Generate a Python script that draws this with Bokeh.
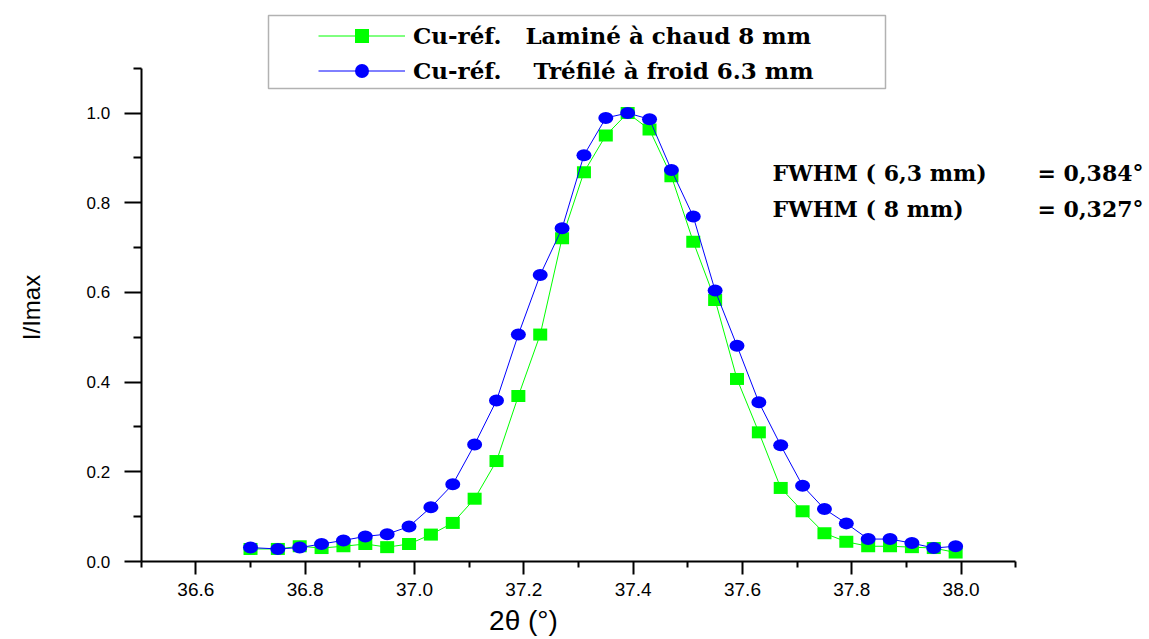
import math
from bokeh.plotting import figure
from bokeh.models import (Range1d, LinearAxis, FixedTicker, PrintfTickFormatter,
                          Legend, LegendItem, Label, BoxAnnotation)
from bokeh.embed import file_html
from bokeh.resources import INLINE

# ---- data ----
two_theta = [36.70, 36.75, 36.79, 36.83, 36.87, 36.91, 36.95, 36.99, 37.03, 37.07,
             37.11, 37.15, 37.19, 37.23, 37.27, 37.31, 37.35, 37.39, 37.43, 37.47,
             37.51, 37.55, 37.59, 37.63, 37.67, 37.71, 37.75, 37.79, 37.83, 37.87,
             37.91, 37.95, 37.99]
lamine_8mm = [0.028, 0.028, 0.034, 0.030, 0.034, 0.039, 0.032, 0.039, 0.060, 0.086,
              0.140, 0.224, 0.369, 0.506, 0.721, 0.868, 0.950, 1.000, 0.963, 0.859,
              0.713, 0.583, 0.407, 0.288, 0.164, 0.112, 0.063, 0.044, 0.034, 0.034,
              0.032, 0.030, 0.020]
trefile_63mm = [0.031, 0.028, 0.031, 0.039, 0.047, 0.056, 0.061, 0.078, 0.121, 0.172,
                0.261, 0.359, 0.506, 0.639, 0.743, 0.906, 0.989, 1.000, 0.986, 0.873,
                0.769, 0.604, 0.481, 0.355, 0.259, 0.169, 0.117, 0.085, 0.050, 0.050,
                0.041, 0.030, 0.034]
series_names = ["Cu-réf.   Laminé à chaud 8 mm", "Cu-réf.    Tréfilé à froid 6.3 mm"]
x_ticks = [36.6, 36.8, 37.0, 37.2, 37.4, 37.6, 37.8, 38.0]
x_minor = [36.5, 36.7, 36.9, 37.1, 37.3, 37.5, 37.7, 37.9, 38.1]
y_ticks = [0.0, 0.2, 0.4, 0.6, 0.8, 1.0]
y_minor = [0.1, 0.3, 0.5, 0.7, 0.9, 1.1]
x_title = "2θ (°)"
y_title = "I/Imax"
fwhm_left = ["FWHM ( 6,3 mm)", "FWHM ( 8 mm)"]
fwhm_right = ["= 0,384°", "= 0,327°"]

GREEN = "#00FF00"
BLUE = "#0000FF"

# ---- layout geometry (canvas pixels) ----
W, H = 1146, 639
AX_X_PX = 140.7      # pixel column of x = 36.5
AX_Y_PX = 561.0      # pixel row of y = 0
PX_PER_X = 546.6
PX_PER_Y = 448.5
X0 = 36.5


def px2x(px):
    return X0 + (px - AX_X_PX) / PX_PER_X


def px2y(py):
    return (AX_Y_PX - py) / PX_PER_Y


p = figure(width=W, height=H, output_backend="svg", toolbar_location=None,
           x_range=Range1d(px2x(0), px2x(W)), y_range=Range1d(px2y(H), px2y(0)),
           x_axis_type=None, y_axis_type=None,
           min_border_left=0, min_border_right=0, min_border_top=0,
           min_border_bottom=0)
p.outline_line_color = None
p.background_fill_color = "white"
p.border_fill_color = "white"

xaxis = LinearAxis(bounds=(36.5, 38.1), fixed_location=0.0,
                   ticker=FixedTicker(ticks=x_ticks, minor_ticks=x_minor),
                   formatter=PrintfTickFormatter(format="%.1f"))
yaxis = LinearAxis(bounds=(0.0, 1.1), fixed_location=36.5,
                   ticker=FixedTicker(ticks=y_ticks, minor_ticks=y_minor),
                   formatter=PrintfTickFormatter(format="%.1f"))
for ax in (xaxis, yaxis):
    ax.axis_line_width = 2
    ax.axis_line_color = "black"
    ax.major_tick_line_width = 2
    ax.minor_tick_line_width = 2
    ax.major_tick_line_color = "black"
    ax.minor_tick_line_color = "black"
    ax.major_tick_in = 0
    ax.minor_tick_in = 0
    ax.major_label_text_font = "Liberation Sans"
    ax.major_label_text_color = "black"
xaxis.major_tick_out = 13
xaxis.minor_tick_out = 6
xaxis.major_label_standoff = 8
xaxis.major_label_text_font_size = "19px"
yaxis.major_tick_out = 17
yaxis.minor_tick_out = 8
yaxis.major_label_standoff = 14
yaxis.major_label_text_font_size = "17px"
p.add_layout(xaxis, "below")
p.add_layout(yaxis, "left")

# ---- series ----
g_line = p.line(two_theta, lamine_8mm, line_color=GREEN, line_width=1)
p.rect(two_theta, lamine_8mm, width=14, height=12, width_units="screen",
       height_units="screen", fill_color=GREEN, line_color=None)
b_line = p.line(two_theta, trefile_63mm, line_color=BLUE, line_width=1)
p.ellipse(two_theta, trefile_63mm, width=15, height=12, width_units="screen",
          height_units="screen", fill_color=BLUE, line_color=None)

# legend-only marker renderers (hidden in plot)
g_leg = p.scatter(two_theta, lamine_8mm, marker="square", size=13,
                  fill_color=GREEN, line_color=None, visible=False)
b_leg = p.scatter(two_theta, trefile_63mm, marker="circle", size=13,
                  fill_color=BLUE, line_color=None, visible=False)

# legend box
p.add_layout(BoxAnnotation(left=px2x(268), right=px2x(885), top=px2y(15),
                           bottom=px2y(88), fill_alpha=0, line_color="black",
                           line_width=1.5))
legend = Legend(items=[LegendItem(label=series_names[0], renderers=[g_line, g_leg]),
                       LegendItem(label=series_names[1], renderers=[b_line, b_leg])],
                location=(318 - 2, H - 89.5),
                padding=2, spacing=0, margin=0,
                glyph_width=87, glyph_height=35, label_height=35, label_standoff=8,
                label_text_font="DejaVu Serif", label_text_font_style="bold",
                label_text_font_size="23px", label_text_color="black",
                border_line_alpha=0, background_fill_alpha=0)
p.add_layout(legend, "center")

# FWHM annotations
for i, yy in enumerate([172, 208]):
    p.add_layout(Label(x=px2x(772), y=px2y(yy), text=fwhm_left[i],
                       text_align="left", text_baseline="middle",
                       text_font="DejaVu Serif", text_font_style="bold",
                       text_font_size="22px", text_color="black"))
    p.add_layout(Label(x=px2x(1143), y=px2y(yy), text=fwhm_right[i],
                       text_align="right", text_baseline="middle",
                       text_font="DejaVu Serif", text_font_style="bold",
                       text_font_size="22px", text_color="black"))

# axis titles
p.add_layout(Label(x=px2x(523), y=px2y(620), text=x_title, text_align="center",
                   text_baseline="middle", text_font="Liberation Sans",
                   text_font_size="28px", text_color="black"))
p.add_layout(Label(x=px2x(31), y=px2y(307), text=y_title, angle=math.pi / 2,
                   text_align="center", text_baseline="middle",
                   text_font="Liberation Sans", text_font_size="24px",
                   text_color="black"))

open("out.html", "w").write(file_html(p, INLINE))
